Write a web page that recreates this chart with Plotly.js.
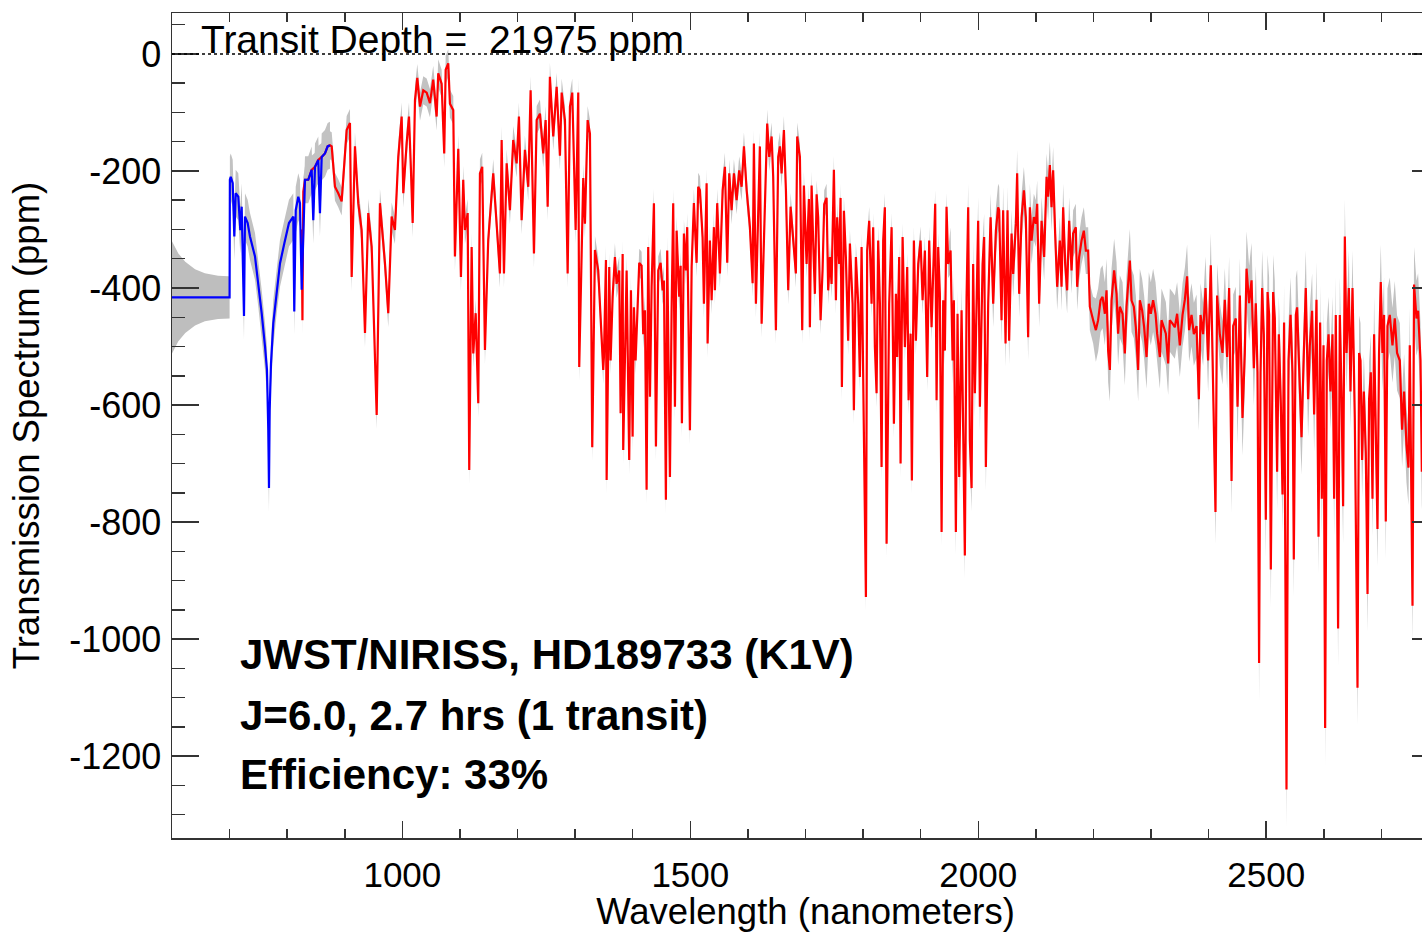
<!DOCTYPE html>
<html><head><meta charset="utf-8">
<script src="https://cdn.plot.ly/plotly-3.0.1.min.js"></script>
<style>html,body{margin:0;padding:0;overflow:hidden;background:#fff}#chart{width:1440px;height:932px}</style>
</head><body><div id="chart"></div>
<script>
// ---- axis ticks ----
const xTickVals = [1000, 1500, 2000, 2500];
const xTickText = ['1000', '1500', '2000', '2500'];
const yTickVals = [0, -200, -400, -600, -800, -1000, -1200];
const yTickText = ['0', '-200', '-400', '-600', '-800', '-1000', '-1200'];

// ---- flat (blue) part below 700 nm and its widening error envelope ----
const flatWl  = [600, 611, 623, 640, 657, 680, 698, 700];
const flatErr = [96, 75, 61, 48, 41, 37, 36, 36];
const flatPpm = -416;

// ---- blue model segment (700-875 nm) ----
const blueWl  = [600, 700, 700.5, 702, 705.4, 708.2, 710.6, 715.1, 718.6, 721, 725, 726.7, 731.4, 735.4, 744.1, 749.8, 755.7, 761.5, 764.9, 767.2, 768.4, 769.6, 771.9, 775.9, 781.8, 787.5, 795, 803.1, 810.6, 812.3, 814.8, 819.3, 822.2, 825.2, 830.9, 836.6, 842.5, 845.3, 848.3, 854, 856.9, 859.9, 865.6, 870.3, 874.3];
const bluePpm = [-416, -416, -215, -210, -221, -312, -238, -244, -301, -261, -448, -278, -289, -312, -346, -392, -443, -500, -540, -643, -742, -609, -529, -460, -403, -358, -324, -289, -278, -440, -267, -244, -255, -403, -215, -215, -198, -284, -193, -181, -272, -176, -170, -158, -156];
const blueErr = 40;

// ---- red spectrum, in pieces ----
const redWl1  = [825.5, 826.5, 828, 831, 836.6, 842.5, 848.3, 854, 860, 865.6, 870.3, 874.3, 877.3, 883, 888.7, 894.6, 903.3, 909, 912, 917.7, 923.4, 929.3, 935.1, 940.8, 946.7, 955.4, 961.1, 969.8, 975.5, 981.4, 987.1];
const redPpm1 = [-300, -455, -235, -215, -215, -198, -193, -181, -176, -170, -158, -156, -158, -227, -238, -252, -130, -118, -381, -158, -255, -301, -477, -272, -329, -617, -255, -358, -443, -278, -301];

const redWl2  = [992.9, 998.8, 1001.6, 1007.5, 1011.5, 1014.9, 1017.9, 1021.9, 1025.9, 1030.6, 1036.3, 1042.2, 1047.9, 1053.6, 1059.5, 1062.3, 1068.2, 1072.7, 1075.2, 1079.7, 1082.6, 1088.4, 1091.3, 1097.1, 1101.7, 1105.7, 1108.7, 1113.4, 1116.1, 1120.3, 1123.1, 1127.3, 1131.8, 1134.7, 1138.7, 1143.4, 1149.1, 1157.8, 1163.7, 1169.4, 1172.4, 1176.4, 1181.1, 1186.8, 1192.5, 1198.4, 1202.4, 1207.1, 1212.8, 1218.6, 1222.7, 1228.5, 1233.2, 1238.9, 1244.6, 1248.8, 1252.3, 1256.2, 1262, 1267.9, 1273.6, 1276.6, 1282.3, 1287, 1291, 1295, 1300.9, 1305.4, 1307.1, 1314.1, 1317, 1321.7, 1325.7, 1329.7, 1334.4, 1340.1, 1348.8];
const redPpm2 = [-176, -107, -238, -152, -107, -198, -289, -79, -41, -90, -62, -66, -84, -44, -107, -33, -51, -170, -27, -16, -85, -96, -346, -162, -381, -215, -301, -272, -711, -330, -512, -443, -597, -204, -193, -506, -318, -204, -284, -375, -147, -375, -187, -267, -147, -187, -107, -284, -164, -227, -62, -341, -113, -102, -170, -113, -261, -39, -141, -56, -174, -66, -113, -375, -90, -66, -301, -66, -535, -212, -290, -113, -136, -672, -335, -370, -540];

const redWl3  = [1350, 1353.5, 1354.7, 1359.2, 1361.6, 1365.1, 1369.1, 1372, 1376.6, 1379, 1382.5, 1383.5, 1386.5, 1389.4, 1393.9, 1396.9, 1399.8, 1402.1, 1405, 1407.8, 1411.3, 1415.4, 1418.2, 1421.2, 1424.1, 1426.9, 1429.9, 1432.8, 1436.8, 1440.3, 1444.3, 1448.4, 1451.9, 1454.2, 1457.6, 1459.9, 1464.6, 1467.5, 1470.3, 1473.3, 1476.2, 1480.7, 1483.2, 1485.4, 1488.9, 1492.4, 1494.6, 1499.3, 1502.3, 1506.2, 1510.9, 1513.7, 1516.7, 1521.3, 1523.6, 1528.3, 1530, 1534, 1537, 1541, 1542.7, 1546.7, 1551.4, 1556.1, 1560.1, 1564.1, 1567.6, 1571.7, 1575.7, 1580.4, 1584.9, 1589.1, 1593.1, 1597.8, 1603.5, 1608.2, 1610.4, 1613.9, 1616.8, 1620.8, 1623.8, 1627.8, 1633.5, 1637, 1641.2, 1643.9, 1648.6, 1652.6, 1655.6, 1658.5, 1662.5, 1666, 1670, 1674.1, 1678.7, 1683.3, 1685.6, 1690.3];
const redPpm3 = [-518, -352, -728, -364, -524, -415, -347, -393, -370, -614, -342, -677, -479, -370, -694, -404, -654, -433, -524, -438, -357, -362, -479, -438, -745, -330, -586, -398, -255, -671, -370, -357, -404, -387, -762, -336, -723, -438, -255, -603, -302, -415, -362, -631, -307, -370, -296, -643, -364, -255, -357, -227, -233, -313, -427, -221, -495, -319, -421, -296, -404, -255, -375, -233, -193, -357, -204, -267, -204, -250, -199, -227, -158, -233, -296, -392, -153, -427, -290, -158, -461, -319, -119, -176, -141, -210, -472, -176, -158, -204, -130, -233, -404, -261, -313, -375, -141, -176];

const redWl4  = [1694.3, 1697.2, 1701.9, 1705.9, 1707.6, 1710.6, 1713.4, 1716.3, 1719.3, 1722, 1726.2, 1729.7, 1732.5, 1736.6, 1739.4, 1742.4, 1745.3, 1749.3, 1752.8, 1755, 1758.5, 1760.9, 1763.2, 1766.7, 1770.1, 1774.1, 1777.1, 1781.8, 1784, 1787.5, 1791.5, 1794.4, 1797.4, 1801.4, 1804.9, 1807.1, 1810.6, 1814.7, 1817.5, 1820.5, 1823.4, 1826.2, 1829.2, 1832.1, 1834.9, 1837.8, 1840.8, 1845.3, 1849.5, 1853.5, 1857, 1859.2, 1862.7, 1865.1, 1868.6, 1872.6, 1876.6, 1879, 1882.5, 1884.7, 1888.2, 1891.7, 1895.7, 1899.8, 1903.3, 1907.3, 1911.3, 1914.8, 1918.9, 1922.9, 1925.2, 1927.6, 1930.4, 1933.3, 1936.3, 1939.1, 1942, 1944.9, 1947.7, 1951.9, 1955.4, 1957.6, 1961.1, 1964, 1966.9, 1971, 1973.8, 1976.7, 1979.7, 1982.5, 1985.4, 1988.4, 1991.1, 1994.1, 1999.8, 2002.8, 2007.5, 2010.2, 2013.2, 2017.2, 2021.4, 2025.9, 2030.6, 2034.5];
const redPpm4 = [-472, -225, -359, -248, -467, -225, -324, -410, -240, -279, -455, -368, -257, -246, -404, -347, -393, -198, -421, -279, -359, -246, -569, -268, -347, -490, -324, -427, -609, -347, -427, -552, -330, -643, -928, -336, -285, -427, -296, -501, -580, -319, -427, -706, -319, -262, -837, -427, -296, -632, -410, -518, -347, -700, -313, -501, -364, -592, -478, -729, -319, -490, -359, -319, -421, -336, -552, -319, -467, -336, -256, -592, -330, -410, -817, -421, -507, -261, -359, -336, -524, -421, -817, -444, -723, -438, -609, -857, -416, -262, -660, -742, -359, -580, -285, -603, -359, -313, -706, -427, -279, -427, -302, -262];

const redWl5  = [2036.3, 2040.4, 2043.2, 2047.4, 2050.8, 2053.6, 2057.8, 2060.6, 2065.3, 2067.5, 2071, 2075.2, 2079.2, 2082.6, 2086.6, 2089.6, 2092.5, 2096.5, 2100, 2102.3, 2105.7, 2109.9, 2114.4, 2118.6, 2121.3, 2124.3, 2127.2, 2130, 2133.5, 2137, 2141.7, 2144.6, 2147.4, 2150.9, 2154.3, 2157.8, 2162, 2164.7, 2169.4, 2171.7, 2175.2, 2179.3, 2183.3, 2186.8, 2190.8, 2193.7, 2199.5, 2204.2, 2208.1, 2212.3, 2215.8, 2219.8, 2222.7, 2225.5, 2228.5, 2231.4, 2235.9, 2240.1, 2242.8, 2245.8, 2250.5, 2254.5, 2257.4, 2263.2, 2266.1, 2270.1, 2273.6, 2277.6, 2280.5, 2284.5, 2288, 2292.2, 2296.2, 2299.6, 2303.6, 2307.8, 2310.6, 2315.3, 2318.2, 2322.2, 2325.7, 2329.7, 2332.6, 2337.3, 2341.3, 2345.3];
const redPpm5 = [-267, -455, -267, -495, -267, -490, -307, -376, -290, -204, -410, -279, -233, -279, -484, -262, -319, -279, -290, -256, -427, -285, -347, -210, -244, -190, -262, -199, -307, -398, -319, -398, -262, -359, -404, -285, -370, -307, -296, -398, -347, -319, -302, -336, -336, -432, -455, -472, -455, -421, -415, -444, -404, -507, -540, -421, -370, -410, -478, -432, -444, -512, -432, -353, -421, -432, -467, -540, -421, -438, -467, -518, -427, -444, -421, -444, -478, -518, -455, -467, -478, -529, -455, -461, -467, -444];

const redWl6  = [2350, 2354.7, 2358.7, 2362.6, 2366.1, 2370.3, 2374.3, 2379, 2383, 2385.9, 2390.4, 2394.6, 2399.1, 2403.8, 2407.8, 2411.9, 2414.7, 2419.4, 2424.1, 2428.1, 2432.1, 2435.6, 2439.8, 2442.6, 2447.2, 2450.2, 2454.2, 2458.8, 2462.8, 2465.8, 2470.3, 2474.5, 2478.5, 2481.9, 2484.9, 2487.6, 2490.1, 2492.9, 2495.8, 2499.3, 2502.3, 2505, 2508, 2512, 2514.9, 2518.9, 2521.9, 2525.3, 2528.3, 2531, 2535.2, 2538.7, 2542.2, 2545.6, 2547.9, 2551.4, 2553.6, 2557.1, 2561.3, 2565.3, 2568.7, 2572.7, 2575.7, 2579.7, 2583.2, 2587.3, 2590.8, 2593.6, 2596.5, 2599.5, 2602.3, 2605.2, 2608.2, 2611.6, 2615.1, 2617.9, 2620.8, 2624.8, 2627.8, 2630.7, 2633.5, 2636.5, 2639.4, 2643.5, 2646.3, 2649.8, 2653.8, 2658.5, 2661.3, 2663.7, 2666.5, 2669.5, 2672.9, 2675.9, 2678.6, 2681.6, 2684.5, 2687.3, 2690.2, 2693.2, 2695.9, 2698.9, 2701.8, 2704.6, 2707.6, 2710.5, 2714.5, 2719.2, 2723.2, 2727.2, 2731.9, 2735.9, 2739.4, 2743.5, 2747, 2749.3, 2754, 2756.7, 2760.9, 2763.7, 2767.9, 2770.2, 2780, 2795];
const redPpm6 = [-498, -446, -420, -380, -472, -446, -479, -465, -590, -446, -479, -400, -524, -361, -550, -783, -413, -479, -511, -420, -518, -400, -730, -465, -452, -603, -413, -622, -511, -367, -426, -387, -537, -426, -544, -1041, -544, -400, -479, -796, -407, -446, -881, -407, -452, -714, -479, -596, -753, -459, -1257, -524, -446, -544, -864, -446, -433, -537, -655, -511, -400, -590, -498, -439, -616, -420, -825, -459, -760, -498, -1152, -524, -479, -577, -479, -760, -446, -982, -446, -577, -773, -312, -511, -400, -577, -400, -622, -1083, -511, -524, -694, -577, -681, -923, -590, -544, -760, -479, -668, -812, -511, -390, -511, -446, -799, -465, -446, -498, -452, -511, -524, -642, -577, -668, -707, -498, -943, -394, -452, -439, -524, -714, -470, -500];

// error envelope levels for the red spectrum (ppm), stepping up with wavelength
const errEdges  = [1950, 2200, 2450];
const errLevels = [24, 40, 54, 64];

const transitDepthText = 'Transit Depth =\u00a0\u00a021975 ppm';
const infoLines = ['JWST/NIRISS, HD189733 (K1V)', 'J=6.0, 2.7 hrs (1 transit)', 'Efficiency: 33%'];

// ---- build ----
const redWl  = [].concat(redWl1, redWl2, redWl3, redWl4, redWl5, redWl6);
const redPpm = [].concat(redPpm1, redPpm2, redPpm3, redPpm4, redPpm5, redPpm6);
function errAt(w){ let i = 0; while (i < errEdges.length && w >= errEdges[i]) i++; return errLevels[i]; }

function band(xs, ys, errs, color){
  const up = ys.map((v,i)=>v+errs[i]);
  const lo = ys.map((v,i)=>v-errs[i]);
  return {x: xs.concat(xs.slice().reverse()), y: up.concat(lo.reverse()),
    type:'scatter', mode:'lines', fill:'toself', fillcolor:color,
    line:{width:0, color:color}, hoverinfo:'skip', showlegend:false};
}
const GREY = 'rgb(194,194,194)';
const flatY = flatWl.map(()=>flatPpm);
const bowtie = band(flatWl, flatY, flatErr, 'rgb(190,190,190)');
const bWl = blueWl.slice(2), bPpm = bluePpm.slice(2);
const blueBand = band(bWl, bPpm, bWl.map(()=>blueErr), GREY);
const redBand = band(redWl, redPpm, redWl.map(errAt), GREY);

const redLine = {x: redWl, y: redPpm, type:'scatter', mode:'lines', line:{color:'#ff0000', width:2.2}, hoverinfo:'skip', showlegend:false};
const blueLine = {x: blueWl, y: bluePpm, type:'scatter', mode:'lines', line:{color:'#0000ff', width:2.2}, hoverinfo:'skip', showlegend:false};

const FONT = 'Liberation Sans, Arial, Helvetica, sans-serif';
const AX = '#333';
const layout = {
  width:1440, height:932,
  margin:{l:172, r:1, t:13, b:94},
  paper_bgcolor:'#fff', plot_bgcolor:'#fff',
  showlegend:false,
  font:{family:FONT, color:'#000', size:36},
  xaxis:{range:[600,2800], tickmode:'array', tickvals:xTickVals, ticktext:xTickText,
    ticks:'inside', ticklen:17, tickwidth:1.5, tickcolor:AX,
    showline:true, linecolor:AX, linewidth:1.5, mirror:'ticks',
    showgrid:false, zeroline:false, automargin:false,
    minor:{tickmode:'linear', tick0:0, dtick:100, ticks:'inside', ticklen:9, tickwidth:1.5, tickcolor:AX, showgrid:false},
    tickfont:{size:35, color:'#000'}, ticklabelstandoff:5,
    title:{text:'Wavelength (nanometers)', font:{size:36.5, color:'#000'}, standoff:3}},
  yaxis:{range:[-1340,70], tickmode:'array', tickvals:yTickVals, ticktext:yTickText,
    ticks:'inside', ticklen:27, tickwidth:1.5, tickcolor:AX,
    showline:true, linecolor:AX, linewidth:1.5, mirror:'ticks',
    showgrid:false, zeroline:false, automargin:false,
    minor:{tickmode:'linear', tick0:0, dtick:50, ticks:'inside', ticklen:13, tickwidth:1.5, tickcolor:AX, showgrid:false},
    tickfont:{size:36, color:'#000'}, ticklabelstandoff:2,
    title:{text:'Transmission Spectrum (ppm)', font:{size:36.5, color:'#000'}, standoff:18}},
  shapes:[{type:'line', xref:'x', yref:'y', x0:600, x1:2800, y0:0, y1:0, layer:'above',
    line:{color:'#000', width:1.5, dash:'dot'}}],
  annotations:[
    {text:transitDepthText, x:647, y:24, xref:'x', yref:'y', xanchor:'left', yanchor:'middle', showarrow:false, font:{size:39, color:'#000'}},
    {text:'<b>'+infoLines[0]+'</b>', x:714, y:-1027, xref:'x', yref:'y', xanchor:'left', yanchor:'middle', showarrow:false, font:{size:42, color:'#000'}},
    {text:'<b>'+infoLines[1]+'</b>', x:714, y:-1130, xref:'x', yref:'y', xanchor:'left', yanchor:'middle', showarrow:false, font:{size:42, color:'#000'}},
    {text:'<b>'+infoLines[2]+'</b>', x:714, y:-1232, xref:'x', yref:'y', xanchor:'left', yanchor:'middle', showarrow:false, font:{size:42, color:'#000'}}
  ]
};
Plotly.newPlot('chart', [bowtie, blueBand, redBand, redLine, blueLine], layout, {displayModeBar:false, staticPlot:true});
</script>
</body></html>
